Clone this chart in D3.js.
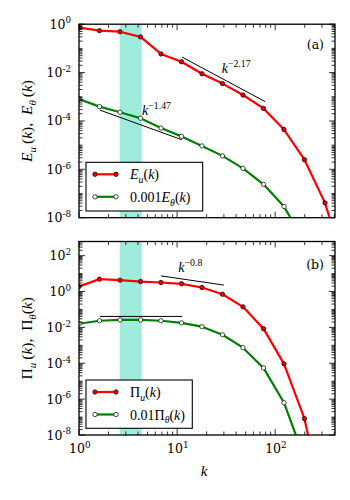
<!DOCTYPE html>
<html>
<head>
<meta charset="utf-8">
<script src="https://cdn.jsdelivr.net/npm/d3@7"></script>
<style>
  body { margin: 0; background: #fff; }
  svg { display: block; }
</style>
</head>
<body>
<svg id="chart" width="350" height="500"></svg>
<script>
// shell wavenumbers (golden-ratio spaced)
const kShells = [1, 1.618, 2.618, 4.236, 6.854, 11.09, 17.94, 29.03, 46.98, 76.01, 123.0, 199.0, 322.0, 521.0];

// panel (a): spectra
const euVals = [0.72, 0.54, 0.49, 0.30, 0.059, 0.028, 0.0089, 0.0035, 0.00118, 3.3e-4, 4.4e-5, 2.5e-6, 4.1e-8, 8e-11];
const ethVals = [8.1e-4, 3.9e-4, 2.3e-4, 1.3e-4, 5.1e-5, 2.3e-5, 9.3e-6, 3.6e-6, 1.1e-6, 2.4e-7, 2.9e-8, 1e-9];

// panel (b): fluxes
const piuVals = [1.9, 4.9, 4.3, 3.6, 3.2, 2.7, 1.67, 0.71, 0.14, 8.5e-3, 9.3e-5, 8.1e-8, 4e-13];
const pithVals = [0.016, 0.0235, 0.026, 0.026, 0.0235, 0.018, 0.011, 0.0039, 7.4e-4, 5.5e-5, 6.3e-7, 4.9e-10];

// power-law guide lines: [kStart, kEnd], exponent, amplitude
const fitEuK = [11.2, 79], fitEuExp = -2.17, fitEuAmp = 8.3;
const fitEthK = [1.63, 11.2], fitEthExp = -1.47, fitEthAmp = 5.8e-4;
const fitPiuK = [6.87, 30], fitPiuExp = -0.8, fitPiuAmp = 34.8;
const fitPithK = [1.63, 11.3], fitPithExp = 0, fitPithAmp = 0.041;

// forcing band
const bandK = [2.6, 4.36];

const yExpTop = [0, -2, -4, -6, -8];
const yExpBot = [2, 0, -2, -4, -6, -8];
const xExp = [0, 1, 2];

const svg = d3.select('#chart');
const mathFont = 'Liberation Serif';
const tickFont = 'DejaVu Serif';

const x = d3.scaleLog().domain([1, Math.pow(10, 2.61)]).range([79, 335]);

// text with sub/superscripts
function rich(g, px, py, parts, o) {
    const t = g.append('text')
        .attr('x', px).attr('y', py)
        .attr('font-family', o.font || mathFont)
        .attr('font-size', o.size)
        .attr('text-anchor', o.anchor || 'start')
        .attr('fill', '#000');
    if (o.transform) t.attr('transform', o.transform);
    let cur = 0;
    parts.forEach(p => {
        const shift = p.sub ? 0.28 * o.size : p.sup ? -0.42 * o.size : 0;
        const ts = t.append('tspan').text(p.t).attr('dy', shift - cur);
        cur = shift;
        if (p.sub || p.sup) ts.attr('font-size', o.size * 0.7);
        if (p.it) ts.style('font-style', 'italic');
        if (p.font) ts.attr('font-family', p.font);
    });
    return t;
}

function drawPanel(cfg) {
    const y = d3.scaleLog().domain([1e-8, cfg.ymax]).range([cfg.y1, cfg.y0]);
    const g = svg.append('g');
    const clipId = 'clip' + cfg.id;
    svg.append('clipPath').attr('id', clipId).append('rect')
        .attr('x', x.range()[0]).attr('y', cfg.y0)
        .attr('width', x.range()[1] - x.range()[0]).attr('height', cfg.y1 - cfg.y0);

    const plot = g.append('g').attr('clip-path', `url(#${clipId})`);

    // band
    plot.append('rect')
        .attr('x', x(bandK[0])).attr('width', x(bandK[1]) - x(bandK[0]))
        .attr('y', cfg.y0).attr('height', cfg.y1 - cfg.y0)
        .attr('fill', '#a0ecdc');

    // guide lines
    cfg.fits.forEach(f => {
        plot.append('line')
            .attr('x1', x(f.k[0])).attr('y1', y(f.amp * Math.pow(f.k[0], f.exp)))
            .attr('x2', x(f.k[1])).attr('y2', y(f.amp * Math.pow(f.k[1], f.exp)))
            .attr('stroke', '#000').attr('stroke-width', 1);
    });

    const line = d3.line().x(d => x(d[0])).y(d => y(d[1]));
    cfg.series.forEach(s => {
        const pts = s.vals.map((v, i) => [kShells[i], v]);
        plot.append('path').datum(pts)
            .attr('fill', 'none').attr('stroke', s.color).attr('stroke-width', 2.2)
            .attr('stroke-linejoin', 'round')
            .attr('d', line);
        plot.selectAll(null).data(pts).enter().append('circle')
            .attr('cx', d => x(d[0])).attr('cy', d => y(d[1]))
            .attr('r', 2.2)
            .attr('fill', s.face).attr('stroke', '#000').attr('stroke-width', 0.7);
    });

    // ticks (inward, all four sides)
    const axG = g.append('g').attr('stroke', '#000').attr('stroke-width', 0.8);
    const [xl, xr] = x.range();
    const xMinor = [], xMajor = [];
    for (let e = 0; e <= 2; e++) {
        xMajor.push(Math.pow(10, e));
        for (let m = 2; m <= 9; m++) {
            const v = m * Math.pow(10, e);
            if (v < x.domain()[1]) xMinor.push(v);
        }
    }
    xMajor.forEach(v => {
        axG.append('line').attr('x1', x(v)).attr('x2', x(v)).attr('y1', cfg.y1).attr('y2', cfg.y1 - 6);
        axG.append('line').attr('x1', x(v)).attr('x2', x(v)).attr('y1', cfg.y0).attr('y2', cfg.y0 + 6);
    });
    xMinor.forEach(v => {
        axG.append('line').attr('x1', x(v)).attr('x2', x(v)).attr('y1', cfg.y1).attr('y2', cfg.y1 - 3.5);
        axG.append('line').attr('x1', x(v)).attr('x2', x(v)).attr('y1', cfg.y0).attr('y2', cfg.y0 + 3.5);
    });
    const yTop = Math.log10(cfg.ymax);
    for (let e = -8; e <= Math.floor(yTop); e++) {
        const major = cfg.yLabels.includes(e);
        const len = major ? 6 : 3.5;
        const v = Math.pow(10, e);
        axG.append('line').attr('x1', xl).attr('x2', xl + len).attr('y1', y(v)).attr('y2', y(v));
        axG.append('line').attr('x1', xr).attr('x2', xr - len).attr('y1', y(v)).attr('y2', y(v));
        for (let m = 2; m <= 9; m++) {
            const w = m * v;
            if (w > cfg.ymax) break;
            axG.append('line').attr('x1', xl).attr('x2', xl + 3.5).attr('y1', y(w)).attr('y2', y(w));
            axG.append('line').attr('x1', xr).attr('x2', xr - 3.5).attr('y1', y(w)).attr('y2', y(w));
        }
    }

    // frame
    g.append('rect')
        .attr('x', xl).attr('y', cfg.y0).attr('width', xr - xl).attr('height', cfg.y1 - cfg.y0)
        .attr('fill', 'none').attr('stroke', '#000').attr('stroke-width', 1.3);

    // y tick labels
    cfg.yLabels.forEach(e => {
        rich(g, 71, y(Math.pow(10, e)) + 4.5,
            [{ t: '10' }, { t: String(e), sup: true }],
            { size: 12.5, font: tickFont, anchor: 'end' });
    });

    // panel tag
    g.append('text').attr('x', 324).attr('y', cfg.tagY)
        .attr('font-family', tickFont).attr('font-size', 12.5).attr('text-anchor', 'end')
        .text(cfg.tag);

    // y label
    const cy = (cfg.y0 + cfg.y1) / 2;
    rich(g, 0, 0, cfg.ylabel, { size: 15.5, anchor: 'middle', transform: `translate(32,${cy}) rotate(-90)` });

    // guide labels
    cfg.fitLabels.forEach(l => {
        rich(g, x(l.k), y(l.v), [{ t: 'k', it: true }, { t: l.txt, sup: true }], { size: 14 });
    });

    // legend
    const lg = cfg.legend;
    g.append('rect').attr('x', lg.x).attr('y', lg.y).attr('width', lg.w).attr('height', lg.h)
        .attr('fill', '#fff').attr('stroke', '#000').attr('stroke-width', 1.1);
    cfg.series.forEach((s, i) => {
        const ly = lg.y + 12 + i * 22.5;
        g.append('line').attr('x1', lg.x + 9).attr('x2', lg.x + 30).attr('y1', ly).attr('y2', ly)
            .attr('stroke', s.color).attr('stroke-width', 2.2);
        [lg.x + 9, lg.x + 30].forEach(cx => {
            g.append('circle').attr('cx', cx).attr('cy', ly).attr('r', 2.2)
                .attr('fill', s.face).attr('stroke', '#000').attr('stroke-width', 0.7);
        });
        rich(g, lg.x + 44, ly + 5, s.label, { size: 14 });
    });

    return y;
}

drawPanel({
    id: 'a', y0: 24.2, y1: 217.7, ymax: 1, yLabels: yExpTop, tag: '(a)', tagY: 49,
    series: [
        { vals: euVals, color: '#ff0000', face: '#e8000b',
          label: [{ t: 'E', it: true }, { t: 'u', it: true, sub: true }, { t: '(' }, { t: 'k', it: true }, { t: ')' }] },
        { vals: ethVals, color: '#008000', face: '#fff',
          label: [{ t: '0.001' }, { t: 'E', it: true }, { t: 'θ', it: true, sub: true }, { t: '(' }, { t: 'k', it: true }, { t: ')' }] }
    ],
    fits: [
        { k: fitEuK, exp: fitEuExp, amp: fitEuAmp },
        { k: fitEthK, exp: fitEthExp, amp: fitEthAmp }
    ],
    fitLabels: [
        { k: 28.5, v: 0.0093, txt: '−2.17' },
        { k: 4.4, v: 1.75e-4, txt: '−1.47' }
    ],
    legend: { x: 86, y: 162.3, w: 116.7, h: 48.7 },
    ylabel: [{ t: 'E', it: true }, { t: 'u', it: true, sub: true }, { t: '\u2009(' }, { t: 'k', it: true }, { t: '),\u2002' },
             { t: 'E', it: true }, { t: 'θ', it: true, sub: true }, { t: '\u2009(' }, { t: 'k', it: true }, { t: ')' }]
});

drawPanel({
    id: 'b', y0: 241.5, y1: 435, ymax: Math.pow(10, 2.79), yLabels: yExpBot, tag: '(b)', tagY: 269,
    series: [
        { vals: piuVals, color: '#ff0000', face: '#e8000b',
          label: [{ t: 'Π' }, { t: 'u', it: true, sub: true }, { t: '(' }, { t: 'k', it: true }, { t: ')' }] },
        { vals: pithVals, color: '#008000', face: '#fff',
          label: [{ t: '0.01Π' }, { t: 'θ', it: true, sub: true }, { t: '(' }, { t: 'k', it: true }, { t: ')' }] }
    ],
    fits: [
        { k: fitPiuK, exp: fitPiuExp, amp: fitPiuAmp },
        { k: fitPithK, exp: fitPithExp, amp: fitPithAmp }
    ],
    fitLabels: [
        { k: 10.3, v: 13, txt: '−0.8' }
    ],
    legend: { x: 86, y: 380, w: 106.3, h: 48.3 },
    ylabel: [{ t: 'Π' }, { t: 'u', it: true, sub: true }, { t: '\u2009(' }, { t: 'k', it: true }, { t: '),\u2002' },
             { t: 'Π' }, { t: 'θ', it: true, sub: true }, { t: '(' }, { t: 'k', it: true }, { t: ')' }]
});

// shared x tick labels and label
xExp.forEach(e => {
    rich(svg, x(Math.pow(10, e)) - 10, 453, [{ t: '10' }, { t: String(e), sup: true }],
        { size: 12.5, font: tickFont });
});
rich(svg, 204, 476, [{ t: 'k', it: true }], { size: 15, anchor: 'middle' });
</script>
</body>
</html>
